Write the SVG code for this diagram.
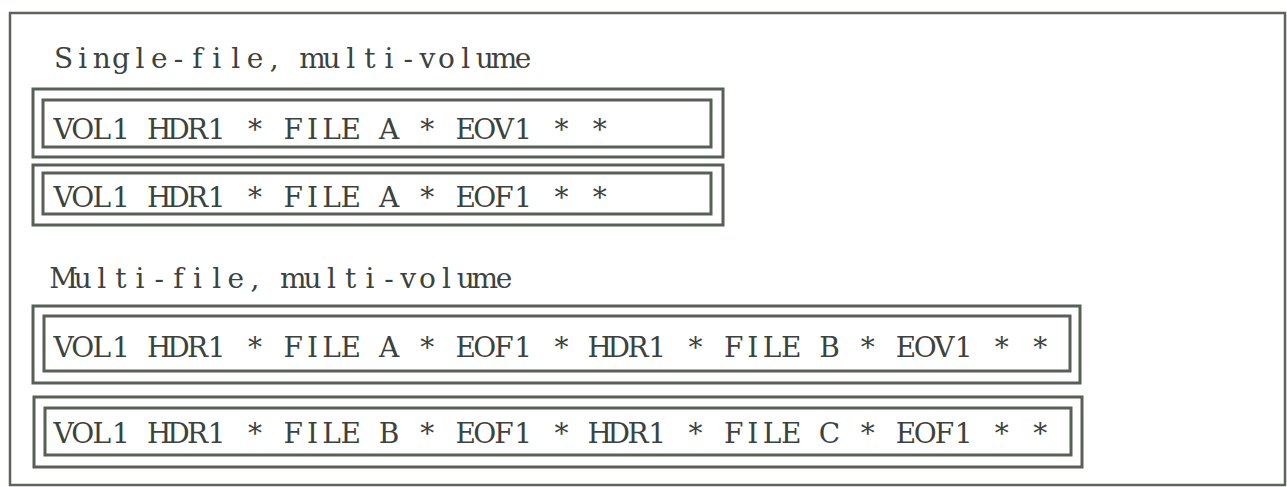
<svg xmlns="http://www.w3.org/2000/svg" width="1287" height="487" viewBox="0 0 1287 487">
  <style>
    .frame { fill: none; stroke: #5c645c; stroke-width: 2.5; }
    .box { fill: none; stroke: #566056; stroke-width: 3; }
    .t { font-family: "DejaVu Serif", "Liberation Serif", serif; font-size: 28px; fill: #3c433c; text-anchor: middle; }
  </style>
  <rect width="1287" height="487" fill="#ffffff"/>
  <rect id="frame" class="frame" x="10" y="13" width="1275" height="472"/>

  <g id="title-single">
    <text class="t" y="68" x="63.5 82.65 101.8 120.95 140.1 159.25 178.4 197.55 216.7 235.85 255 274.15 293.3 312.45 331.6 350.75 369.9 389.05 408.2 427.35 446.5 465.65 484.8 503.95 523.1 542.25 561.4 580.55 599.7 618.85 638 657.15 676.3 695.45 714.6 733.75 752.9 772.05 791.2 810.35 829.5 848.65 867.8 886.95 906.1 925.25 944.4 963.55 982.7 1001.85 1021 1040.15">Single-file, multi-volume</text>
  </g>

  <g id="vol1-single">
    <rect class="box" x="33" y="89" width="690" height="68"/>
    <rect class="box" x="43" y="100" width="668" height="47"/>
    <text class="t" y="139" x="63.5 82.65 101.8 120.95 140.1 159.25 178.4 197.55 216.7 235.85 255 274.15 293.3 312.45 331.6 350.75 369.9 389.05 408.2 427.35 446.5 465.65 484.8 503.95 523.1 542.25 561.4 580.55 599.7 618.85 638 657.15 676.3 695.45 714.6 733.75 752.9 772.05 791.2 810.35 829.5 848.65 867.8 886.95 906.1 925.25 944.4 963.55 982.7 1001.85 1021 1040.15">VOL1 HDR1 * FILE A * EOV1 * *</text>
  </g>

  <g id="vol2-single">
    <rect class="box" x="33" y="165" width="690" height="60"/>
    <rect class="box" x="43" y="173" width="668" height="41"/>
    <text class="t" y="207" x="63.5 82.65 101.8 120.95 140.1 159.25 178.4 197.55 216.7 235.85 255 274.15 293.3 312.45 331.6 350.75 369.9 389.05 408.2 427.35 446.5 465.65 484.8 503.95 523.1 542.25 561.4 580.55 599.7 618.85 638 657.15 676.3 695.45 714.6 733.75 752.9 772.05 791.2 810.35 829.5 848.65 867.8 886.95 906.1 925.25 944.4 963.55 982.7 1001.85 1021 1040.15">VOL1 HDR1 * FILE A * EOF1 * *</text>
  </g>

  <g id="title-multi">
    <text class="t" y="288" x="63.5 82.65 101.8 120.95 140.1 159.25 178.4 197.55 216.7 235.85 255 274.15 293.3 312.45 331.6 350.75 369.9 389.05 408.2 427.35 446.5 465.65 484.8 503.95 523.1 542.25 561.4 580.55 599.7 618.85 638 657.15 676.3 695.45 714.6 733.75 752.9 772.05 791.2 810.35 829.5 848.65 867.8 886.95 906.1 925.25 944.4 963.55 982.7 1001.85 1021 1040.15">Multi-file, multi-volume</text>
  </g>

  <g id="vol1-multi">
    <rect class="box" x="33" y="306" width="1047" height="77"/>
    <rect class="box" x="44" y="316" width="1026" height="55"/>
    <text class="t" y="357" x="63.5 82.65 101.8 120.95 140.1 159.25 178.4 197.55 216.7 235.85 255 274.15 293.3 312.45 331.6 350.75 369.9 389.05 408.2 427.35 446.5 465.65 484.8 503.95 523.1 542.25 561.4 580.55 599.7 618.85 638 657.15 676.3 695.45 714.6 733.75 752.9 772.05 791.2 810.35 829.5 848.65 867.8 886.95 906.1 925.25 944.4 963.55 982.7 1001.85 1021 1040.15">VOL1 HDR1 * FILE A * EOF1 * HDR1 * FILE B * EOV1 * *</text>
  </g>

  <g id="vol2-multi">
    <rect class="box" x="34" y="397" width="1048" height="70"/>
    <rect class="box" x="45" y="408" width="1026" height="47"/>
    <text class="t" y="443" x="63.5 82.65 101.8 120.95 140.1 159.25 178.4 197.55 216.7 235.85 255 274.15 293.3 312.45 331.6 350.75 369.9 389.05 408.2 427.35 446.5 465.65 484.8 503.95 523.1 542.25 561.4 580.55 599.7 618.85 638 657.15 676.3 695.45 714.6 733.75 752.9 772.05 791.2 810.35 829.5 848.65 867.8 886.95 906.1 925.25 944.4 963.55 982.7 1001.85 1021 1040.15">VOL1 HDR1 * FILE B * EOF1 * HDR1 * FILE C * EOF1 * *</text>
  </g>
</svg>
